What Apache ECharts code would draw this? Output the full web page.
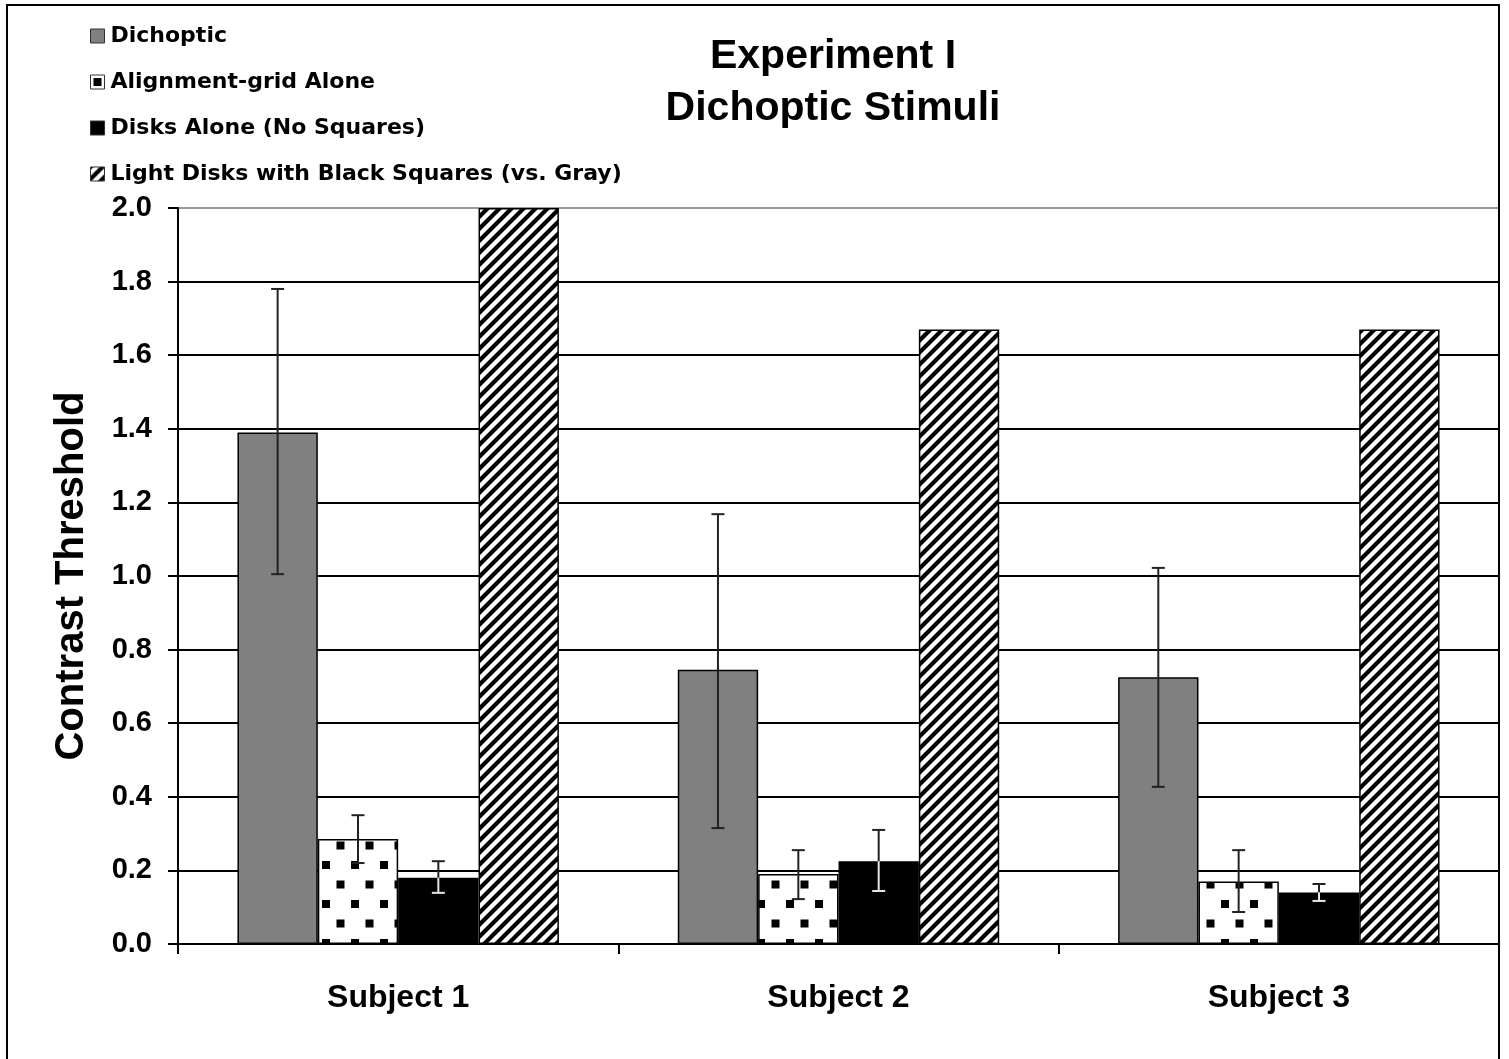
<!DOCTYPE html>
<html>
<head>
<meta charset="utf-8">
<script src="https://cdn.jsdelivr.net/npm/echarts@6/dist/echarts.min.js"></script>
<style>
html,body{margin:0;padding:0;background:#fff;}
#chart{width:1509px;height:1059px;}
</style>
</head>
<body>
<div id="chart"></div>
<script>
const categories = ['Subject 1', 'Subject 2', 'Subject 3'];
const seriesNames = ['Dichoptic', 'Alignment-grid Alone', 'Disks Alone (No Squares)', 'Light Disks with Black Squares (vs. Gray)'];
const dichoptic = [1.39, 0.745, 0.725];
const dichopticLow = [1.005, 0.315, 0.427];
const dichopticHigh = [1.78, 1.168, 1.022];
const alignment = [0.285, 0.19, 0.17];
const alignmentLow = [0.22, 0.122, 0.087];
const alignmentHigh = [0.35, 0.255, 0.255];
const disks = [0.18, 0.225, 0.14];
const disksLow = [0.139, 0.144, 0.117];
const disksHigh = [0.225, 0.31, 0.163];
const lightDisks = [2.0, 1.67, 1.67];
const yTicks = ['0.0','0.2','0.4','0.6','0.8','1.0','1.2','1.4','1.6','1.8','2.0'];

const FONT = '"Liberation Sans", Arial, sans-serif';
const WIDE = '"DejaVu Sans", Verdana, sans-serif';

function hatchPattern() {
  const p = 12;
  const c = document.createElement('canvas');
  c.width = p; c.height = p;
  const g = c.getContext('2d');
  g.fillStyle = '#fff'; g.fillRect(0, 0, p, p);
  g.strokeStyle = '#000'; g.lineWidth = 4.2;
  g.beginPath();
  g.moveTo(-p, 2 * p); g.lineTo(2 * p, -p);
  g.moveTo(-p, p); g.lineTo(p, -p);
  g.moveTo(0, 2 * p); g.lineTo(2 * p, 0);
  g.stroke();
  return c;
}
function dotPattern() {
  const w = 29, h = 39;
  const c = document.createElement('canvas');
  c.width = w; c.height = h;
  const g = c.getContext('2d');
  g.fillStyle = '#fff'; g.fillRect(0, 0, w, h);
  g.fillStyle = '#000';
  g.fillRect(3, 3, 8, 8);
  g.fillRect(17.5, 22.5, 8, 8);
  return c;
}

const fills = [
  '#808080',
  { image: dotPattern(), repeat: 'repeat' },
  '#000000',
  { image: hatchPattern(), repeat: 'repeat' }
];
const values = [dichoptic, alignment, disks, lightDisks];
const lows = [dichopticLow, alignmentLow, disksLow, null];
const highs = [dichopticHigh, alignmentHigh, disksHigh, null];

const barGapPct = 0.27;
const nBars = 4;

const barSeries = seriesNames.map((name, i) => ({
  name: name,
  type: 'bar',
  data: values[i],
  barGap: '0%',
  barCategoryGap: '27%',
  itemStyle: { color: fills[i], borderColor: '#000', borderWidth: 1.5 },
  emphasis: { disabled: true },
  z: 2
}));

const errData = [];
for (let s = 0; s < 3; s++) {
  for (let c = 0; c < categories.length; c++) {
    errData.push([c, s, lows[s][c], highs[s][c], values[s][c]]);
  }
}

const errSeries = {
  type: 'custom',
  name: 'err',
  z: 10,
  silent: true,
  data: errData,
  encode: { x: 0, y: [2, 3] },
  renderItem: function (params, api) {
    const c = api.value(0), s = api.value(1);
    const lo = api.value(2), hi = api.value(3), v = api.value(4);
    const cw = api.size([1, 0])[0];
    const bw = cw * (1 - barGapPct) / nBars;
    const center = api.coord([c, 0])[0];
    const x = center - 2 * bw + (s + 0.5) * bw;
    const yLo = api.coord([c, lo])[1];
    const yHi = api.coord([c, hi])[1];
    const yV = api.coord([c, v])[1];
    const cap = 6.5;
    const dark = '#222';
    const children = [];
    function seg(x1, y1, x2, y2, col) {
      children.push({ type: 'line', shape: { x1: x1, y1: y1, x2: x2, y2: y2 }, style: { stroke: col, lineWidth: 2 } });
    }
    if (s === 2) {
      const light = '#e6e6e6';
      seg(x, yHi, x, Math.min(yV, yLo), dark);
      seg(x, Math.max(yHi, yV), x, yLo, light);
      seg(x - cap, yHi, x + cap, yHi, yHi < yV ? dark : light);
      seg(x - cap, yLo, x + cap, yLo, yLo < yV ? dark : light);
    } else {
      seg(x, yHi, x, yLo, dark);
      seg(x - cap, yHi, x + cap, yHi, dark);
      seg(x - cap, yLo, x + cap, yLo, dark);
    }
    return { type: 'group', children: children };
  }
};

const gridColors = yTicks.map((t, i) => i === yTicks.length - 1 ? '#9a9a9a' : '#000');

const chart = echarts.init(document.getElementById('chart'), null, { renderer: 'canvas' });
chart.setOption({
  animation: false,
  backgroundColor: '#fff',
  textStyle: { fontFamily: FONT },
  title: {
    text: 'Experiment I\nDichoptic Stimuli',
    left: 828,
    textAlign: 'center',
    top: 26,
    textStyle: { fontFamily: FONT, fontWeight: 'bold', fontSize: 41, lineHeight: 52, color: '#000' }
  },
  legend: {
    data: seriesNames,
    orient: 'vertical',
    left: 85,
    top: 19,
    itemWidth: 14,
    itemHeight: 14,
    itemGap: 22,
    icon: 'rect',
    selectedMode: false,
    itemStyle: { borderColor: '#333', borderWidth: 1 },
    textStyle: { fontFamily: WIDE, fontWeight: 'bold', fontSize: 22, lineHeight: 24, color: '#000', padding: [0, 0, 0, 1] }
  },
  grid: { left: 178, right: 10, top: 208, bottom: 115, containLabel: false },
  xAxis: {
    type: 'category',
    data: categories,
    boundaryGap: true,
    axisLine: { lineStyle: { color: '#000', width: 2 } },
    axisTick: { show: true, alignWithLabel: false, length: 10, lineStyle: { color: '#000', width: 2 } },
    axisLabel: { fontFamily: FONT, fontWeight: 'bold', fontSize: 32, color: '#000', margin: 38 },
    splitLine: { show: false }
  },
  yAxis: {
    type: 'value',
    min: 0,
    max: 2,
    interval: 0.2,
    name: 'Contrast Threshold',
    nameLocation: 'middle',
    nameGap: 86,
    nameTextStyle: { fontFamily: FONT, fontWeight: 'bold', fontSize: 40, color: '#000' },
    axisLine: { show: true, lineStyle: { color: '#000', width: 2 } },
    axisTick: { show: true, length: 10, lineStyle: { color: '#000', width: 2 } },
    axisLabel: {
      fontFamily: FONT, fontWeight: 'bold', fontSize: 29, color: '#000', margin: 26,
      formatter: function (v) { return yTicks[Math.round(v / 0.2)]; }
    },
    splitLine: { show: true, lineStyle: { color: gridColors, width: 2 } }
  },
  graphic: [{
    type: 'rect',
    shape: { x: 7, y: 5, width: 1492, height: 1060 },
    style: { fill: null, stroke: '#000', lineWidth: 2 },
    silent: true,
    z: 100
  }],
  series: barSeries.concat([errSeries])
});
</script>
</body>
</html>
